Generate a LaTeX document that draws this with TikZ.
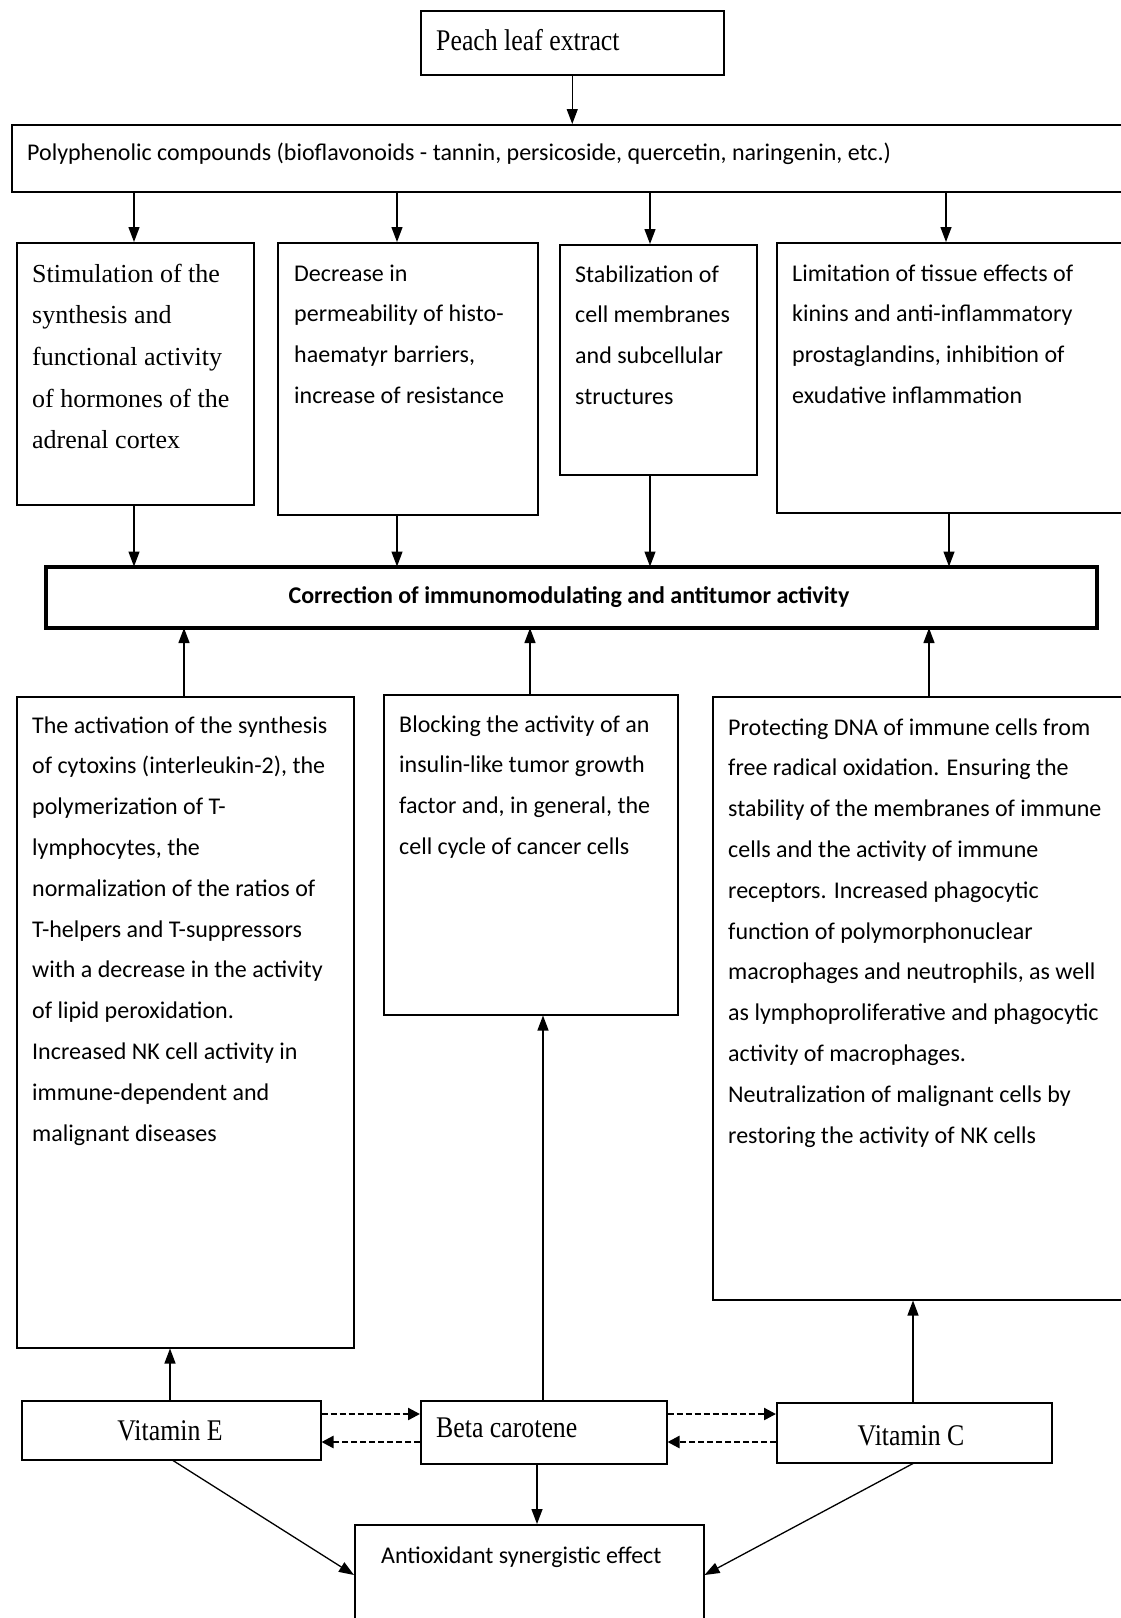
\documentclass[tikz,border=0pt]{standalone}
\usepackage{fontspec}
\setmainfont{Carlito}
\newfontfamily\serifA{Liberation Serif}
\newfontfamily\serifC{Liberation Serif}[FakeStretch=0.86]
\usetikzlibrary{arrows.meta}
\begin{document}
\begin{tikzpicture}[x=1pt,y=-1pt,
  box/.style={draw=black, line width=1.5pt, inner sep=0pt, anchor=north west},
  thickbox/.style={box, line width=3.5pt},
  body/.style={inner sep=0pt, anchor=north west, align=left, text=black,
    font=\fontsize{24}{40.8}\selectfont},
  sbody/.style={inner sep=0pt, anchor=north west, align=left, text=black,
    font=\serifA\fontsize{26}{41.7}\selectfont},
  stitle/.style={inner sep=0pt, text=black, font=\serifC\fontsize{30}{36}\selectfont},
  arr/.style={line width=1.3pt, draw=black, -{Triangle[length=15pt,width=11pt]}},
  dasharr/.style={line width=2.4pt, draw=black, dash pattern=on 6pt off 3pt,
    -{Triangle[length=12pt,width=12pt]}},
  plain/.style={line width=1.3pt, draw=black}
]
\clip (0,0) rectangle (1121,1618);
\fill[white] (0,0) rectangle (1121,1618);

% boxes
\node[box, minimum width=303pt, minimum height=64pt] (peach) at (420,10) {};
\node[box, minimum width=1129pt, minimum height=67pt] (poly) at (11,124) {};
\node[box, minimum width=237pt, minimum height=262pt] (b1) at (16,242) {};
\node[box, minimum width=260pt, minimum height=272pt] (b2) at (277,242) {};
\node[box, minimum width=197pt, minimum height=230pt] (b3) at (559,244) {};
\node[box, minimum width=364pt, minimum height=270pt] (b4) at (776,242) {};
\node[thickbox, minimum width=1051pt, minimum height=61pt] (corr) at (44,565) {};
\node[box, minimum width=337pt, minimum height=651pt] (l1) at (16,696) {};
\node[box, minimum width=294pt, minimum height=320pt] (l2) at (383,694) {};
\node[box, minimum width=428pt, minimum height=603pt] (l3) at (712,696) {};
\node[box, minimum width=299pt, minimum height=59pt] (vE) at (21,1400) {};
\node[box, minimum width=246pt, minimum height=63pt] (bc) at (420,1400) {};
\node[box, minimum width=275pt, minimum height=60pt] (vC) at (776,1402) {};
\node[box, minimum width=349pt, minimum height=120pt] (anti) at (354,1524) {};

% texts
\node[stitle, anchor=base west] (tpeach) at (436,50) {Peach leaf extract};
\node[inner sep=0pt, anchor=base west, text=black, font=\fontsize{24}{30}\selectfont] (tpoly) at (27,160)
  {Polyphenolic compounds (bioflavonoids - tannin, persicoside, quercetin, naringenin, etc.)};
\node[sbody] (t1) at (32,252.8) {\strut Stimulation of the\\ synthesis and\\ functional activity\\ of hormones of the\\ adrenal cortex};
\node[body] (t2) at (294,252.4) {\strut Decrease in\\ permeability of histo-\\ haematyr barriers,\\ increase of resistance};
\node[body] (t3) at (575,253.4) {\strut Stabilization of\\ cell membranes\\ and subcellular\\ structures};
\node[body] (t4) at (792,252.4) {\strut Limitation of tissue effects of\\ kinins and anti-inflammatory\\ prostaglandins, inhibition of\\ exudative inflammation};
\node[inner sep=0pt, anchor=base, text=black, font=\bfseries\fontsize{24}{30}\selectfont] (tcorr) at (569,603)
  {Correction of immunomodulating and antitumor activity};
\node[body] (tl1) at (32,704.4) {\strut The activation of the synthesis\\ of cytoxins (interleukin-2), the\\ polymerization of T-\\ lymphocytes, the\\ normalization of the ratios of\\ T-helpers and T-suppressors\\ with a decrease in the activity\\ of lipid peroxidation.\\ Increased NK cell activity in\\ immune-dependent and\\ malignant diseases};
\node[body] (tl2) at (399,703.4) {\strut Blocking the activity of an\\ insulin-like tumor growth\\ factor and, in general, the\\ cell cycle of cancer cells};
\node[body] (tl3) at (728,706.4) {\strut Protecting DNA of immune cells from\\ free radical oxidation. Ensuring the\\ stability of the membranes of immune\\ cells and the activity of immune\\ receptors. Increased phagocytic\\ function of polymorphonuclear\\ macrophages and neutrophils, as well\\ as lymphoproliferative and phagocytic\\ activity of macrophages.\\ Neutralization of malignant cells by\\ restoring the activity of NK cells};
\node[stitle, anchor=base] (tvE) at (170,1440) {Vitamin E};
\node[stitle, anchor=base west] (tbc) at (436,1437) {Beta carotene};
\node[stitle, anchor=base] (tvC) at (911,1445) {Vitamin C};
\node[inner sep=0pt, anchor=base west, text=black, font=\fontsize{24}{30}\selectfont] (tanti) at (381,1563) {Antioxidant synergistic effect};

% x positions
\coordinate (xa) at (134,0);
\coordinate (xb) at (397,0);
\coordinate (xc) at (650,0);
\coordinate (xd) at (946,0);
\coordinate (xd2) at (949,0);
\coordinate (xe) at (184,0);
\coordinate (xf) at (530,0);
\coordinate (xg) at (929,0);
\coordinate (xh) at (170,0);
\coordinate (xi) at (543,0);
\coordinate (xj) at (913,0);
\coordinate (xk) at (173,0);
\coordinate (xl) at (537,0);
\coordinate (ya) at (0,1414);
\coordinate (yb) at (0,1442);
\coordinate (yc) at (0,1575);

% connectors
\draw[arr] (peach.south) -- (peach.south |- poly.north);
\draw[arr] (poly.south -| xa) -- (b1.north -| xa);
\draw[arr] (poly.south -| xb) -- (b2.north -| xb);
\draw[arr] (poly.south -| xc) -- (b3.north -| xc);
\draw[arr] (poly.south -| xd) -- (b4.north -| xd);
\draw[arr] (b1.south -| xa) -- ([yshift=-1.5pt]corr.north -| xa);
\draw[arr] (b2.south -| xb) -- ([yshift=-1.5pt]corr.north -| xb);
\draw[arr] (b3.south -| xc) -- ([yshift=-1.5pt]corr.north -| xc);
\draw[arr] (b4.south -| xd2) -- ([yshift=-1.5pt]corr.north -| xd2);
\draw[arr] (l1.north -| xe) -- ([yshift=1.5pt]corr.south -| xe);
\draw[arr] (l2.north -| xf) -- ([yshift=1.5pt]corr.south -| xf);
\draw[arr] (l3.north -| xg) -- ([yshift=1.5pt]corr.south -| xg);
\draw[arr] (vE.north -| xh) -- (l1.south -| xh);
\draw[arr] (bc.north -| xi) -- (l2.south -| xi);
\draw[arr] (vC.north -| xj) -- (l3.south -| xj);
\draw[dasharr] (vE.east |- ya) -- (bc.west |- ya);
\draw[dasharr] (bc.west |- yb) -- (vE.east |- yb);
\draw[dasharr] (bc.east |- ya) -- (vC.west |- ya);
\draw[dasharr] (vC.west |- yb) -- (bc.east |- yb);
\draw[arr] (vE.south -| xk) -- (anti.west |- yc);
\draw[arr] (bc.south -| xl) -- (anti.north -| xl);
\draw[arr] (vC.south -| xj) -- (anti.east |- yc);
\end{tikzpicture}
\end{document}
